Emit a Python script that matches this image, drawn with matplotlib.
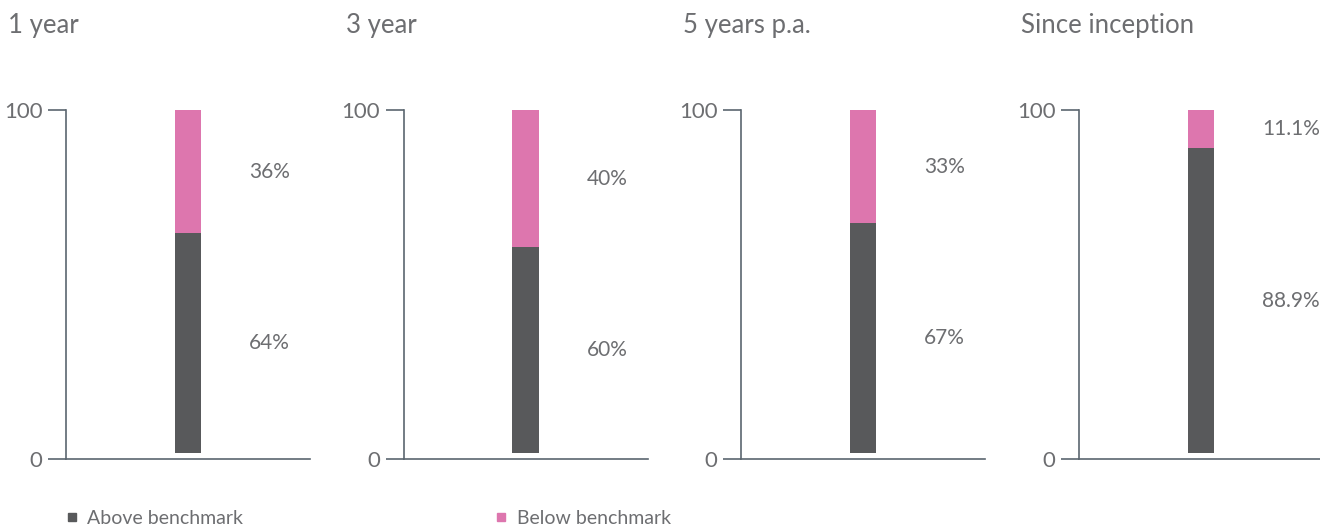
import matplotlib
matplotlib.use("Agg")
import matplotlib.pyplot as plt
from matplotlib.lines import Line2D

# data
periods = ["1 year", "3 year", "5 years p.a.", "Since inception"]
above = [64, 60, 67, 88.9]
below = [36, 40, 33, 11.1]
above_labels = ["64%", "60%", "67%", "88.9%"]
below_labels = ["36%", "40%", "33%", "11.1%"]

dark = "#58595b"
pink = "#dd76ae"
txt = "#6d6e71"
axcol = "#5b6670"

plt.rcParams["font.family"] = ["Lato", "DejaVu Sans"]

fig = plt.figure(figsize=(13.2, 5.28), dpi=100)
W, H = 1320, 528
spine_x = [66, 403.5, 741, 1079]
ax_w = 244
y_top, y_bot = 110, 459
ylo = -1.75  # bars sit a little above the baseline

for i, p in enumerate(periods):
    ax = fig.add_axes([spine_x[i] / W, (H - y_bot) / H, ax_w / W, (y_bot - y_top) / H])
    ax.bar(0, above[i], width=0.107, color=dark)
    ax.bar(0, below[i], width=0.107, bottom=above[i], color=pink)
    ax.set_xlim(-0.5, 0.5)
    ax.set_ylim(ylo, 100)
    ax.set_xticks([])
    ax.set_yticks([ylo, 100], ["0", "100"])
    ax.tick_params(axis="y", length=13, width=1.2, color=axcol, labelcolor=txt,
                   labelsize=16, pad=4)
    for s in ["top", "right"]:
        ax.spines[s].set_visible(False)
    for s in ["left", "bottom"]:
        ax.spines[s].set_color(axcol)
        ax.spines[s].set_linewidth(1.2)
    ax.text(0.25, above[i] / 2, above_labels[i], ha="left", va="center",
            fontsize=15, color=txt, clip_on=False)
    ax.text(0.25, above[i] + below[i] / 2, below_labels[i], ha="left", va="center",
            fontsize=15, color=txt, clip_on=False)
    fig.text((spine_x[i] - 58) / W, 1 - 26 / H, p, ha="left", va="center",
             fontsize=18.5, color=txt)

h1 = Line2D([], [], marker="s", color=dark, linestyle="none", markersize=6)
h2 = Line2D([], [], marker="s", color=pink, linestyle="none", markersize=6)
lg1 = fig.legend([h1], ["Above benchmark"], loc="center left", bbox_to_anchor=(54 / W, 1 - 518 / H),
                 frameon=False, fontsize=14, handletextpad=0.3, handlelength=1, borderaxespad=0)
lg2 = fig.legend([h2], ["Below benchmark"], loc="center left", bbox_to_anchor=(484 / W, 1 - 518 / H),
                 frameon=False, fontsize=14, handletextpad=0.3, handlelength=1, borderaxespad=0)
for lg in (lg1, lg2):
    for t in lg.get_texts():
        t.set_color(txt)

fig.savefig("out.png", dpi=100)
